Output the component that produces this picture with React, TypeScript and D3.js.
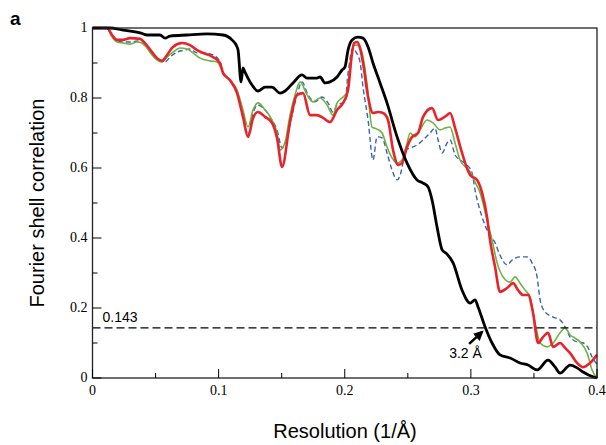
import React from 'react';
import * as d3 from 'd3';

// [resolution (1/Å), FSC]
const blackCurve: [number, number][] = [
  [0, 1.0], [0.0139, 1.0], [0.0242, 0.994], [0.0377, 0.986], [0.0432, 0.98], [0.0535, 0.98],
  [0.0575, 0.971], [0.0615, 0.977], [0.0749, 0.98], [0.0908, 0.983], [0.1035, 0.98],
  [0.1106, 0.966], [0.1146, 0.946], [0.1154, 0.937], [0.1178, 0.846], [0.1193, 0.886],
  [0.1209, 0.874], [0.1265, 0.837], [0.1312, 0.82], [0.1368, 0.831], [0.1423, 0.831],
  [0.1487, 0.814], [0.1527, 0.82], [0.159, 0.843], [0.1661, 0.866], [0.1701, 0.857],
  [0.178, 0.857], [0.1804, 0.86], [0.1844, 0.843], [0.1883, 0.846], [0.1939, 0.86],
  [0.1979, 0.88], [0.2002, 0.889], [0.2026, 0.937], [0.2058, 0.966], [0.2105, 0.974],
  [0.2145, 0.971], [0.2185, 0.946], [0.2224, 0.9], [0.228, 0.843], [0.2335, 0.786],
  [0.2415, 0.689], [0.2494, 0.614], [0.2573, 0.566], [0.2621, 0.557], [0.2661, 0.546],
  [0.2692, 0.509], [0.2732, 0.431], [0.2772, 0.366], [0.2811, 0.354], [0.2859, 0.329],
  [0.293, 0.251], [0.2994, 0.214], [0.3033, 0.223], [0.3057, 0.203], [0.3113, 0.146],
  [0.3168, 0.1], [0.3231, 0.066], [0.3311, 0.057], [0.339, 0.043], [0.3454, 0.037],
  [0.3525, 0.023], [0.3612, 0.051], [0.3668, 0.031], [0.3707, 0.014], [0.3787, 0.037],
  [0.3842, 0.029], [0.389, 0.017], [0.3969, 0.003], [0.4, 0],
];

const redCurve: [number, number][] = [
  [0, 1.0], [0.0115, 1.0], [0.0155, 0.98], [0.0194, 0.966], [0.0242, 0.966], [0.0297, 0.971],
  [0.0377, 0.969], [0.0416, 0.957], [0.0472, 0.931], [0.0511, 0.914], [0.0551, 0.906],
  [0.0591, 0.923], [0.0638, 0.946], [0.071, 0.957], [0.0773, 0.951], [0.0829, 0.937],
  [0.0876, 0.929], [0.0956, 0.917], [0.1011, 0.9], [0.1035, 0.871], [0.109, 0.851],
  [0.1146, 0.814], [0.1193, 0.746], [0.1233, 0.689], [0.1273, 0.743], [0.1312, 0.76],
  [0.1368, 0.746], [0.1423, 0.729], [0.1463, 0.686], [0.1503, 0.603], [0.1566, 0.731],
  [0.1622, 0.809], [0.1669, 0.814], [0.1725, 0.751], [0.178, 0.751], [0.1828, 0.743],
  [0.1883, 0.731], [0.1939, 0.766], [0.1987, 0.786], [0.2026, 0.823], [0.2058, 0.929],
  [0.2074, 0.957], [0.2098, 0.96], [0.2121, 0.943], [0.2145, 0.9], [0.2185, 0.803],
  [0.2224, 0.757], [0.2264, 0.76], [0.2304, 0.757], [0.2343, 0.737], [0.2383, 0.651],
  [0.2423, 0.609], [0.2454, 0.614], [0.2494, 0.66], [0.2534, 0.689], [0.2581, 0.7],
  [0.2621, 0.746], [0.2692, 0.771], [0.274, 0.737], [0.2811, 0.751], [0.2835, 0.757],
  [0.2875, 0.714], [0.293, 0.643], [0.2994, 0.58], [0.3049, 0.566], [0.3089, 0.529],
  [0.3128, 0.46], [0.3152, 0.394], [0.3192, 0.317], [0.3231, 0.246], [0.3287, 0.257],
  [0.3335, 0.271], [0.3374, 0.251], [0.3414, 0.237], [0.3454, 0.237], [0.3493, 0.186],
  [0.3533, 0.1], [0.3572, 0.117], [0.3612, 0.129], [0.3652, 0.089], [0.3707, 0.1],
  [0.3747, 0.086], [0.3787, 0.071], [0.3842, 0.043], [0.389, 0.031], [0.3945, 0.043],
  [0.4, 0.066],
];

const greenCurve: [number, number][] = [
  [0, 1.0], [0.0115, 1.0], [0.0155, 0.974], [0.0194, 0.96], [0.0242, 0.957], [0.0297, 0.954],
  [0.0353, 0.96], [0.0393, 0.957], [0.0432, 0.943], [0.0472, 0.923], [0.0511, 0.909],
  [0.0551, 0.903], [0.0591, 0.917], [0.0638, 0.931], [0.0694, 0.943], [0.0749, 0.94],
  [0.0797, 0.929], [0.0852, 0.914], [0.0932, 0.906], [0.0987, 0.903], [0.1035, 0.874],
  [0.109, 0.851], [0.1146, 0.823], [0.1193, 0.766], [0.1233, 0.717], [0.1273, 0.766],
  [0.1312, 0.786], [0.1368, 0.766], [0.1423, 0.737], [0.1463, 0.7], [0.1487, 0.651],
  [0.1527, 0.674], [0.1566, 0.751], [0.1606, 0.809], [0.1646, 0.846], [0.1701, 0.809],
  [0.1749, 0.789], [0.1804, 0.8], [0.186, 0.78], [0.1907, 0.751], [0.1939, 0.786],
  [0.1987, 0.803], [0.2018, 0.817], [0.205, 0.917], [0.2074, 0.951], [0.2098, 0.951],
  [0.2137, 0.929], [0.2177, 0.84], [0.2216, 0.717], [0.2256, 0.711], [0.2296, 0.7],
  [0.2335, 0.66], [0.2375, 0.629], [0.2415, 0.614], [0.2454, 0.623], [0.2494, 0.671],
  [0.2518, 0.7], [0.2557, 0.689], [0.2597, 0.709], [0.2653, 0.737], [0.27, 0.729],
  [0.2756, 0.709], [0.2795, 0.714], [0.2835, 0.717], [0.2875, 0.671], [0.2914, 0.623],
  [0.2994, 0.589], [0.3033, 0.56], [0.3073, 0.529], [0.3128, 0.451], [0.3168, 0.394],
  [0.3208, 0.329], [0.3255, 0.289], [0.3311, 0.274], [0.335, 0.289], [0.339, 0.271],
  [0.343, 0.251], [0.3469, 0.231], [0.3509, 0.157], [0.3549, 0.1], [0.3604, 0.089],
  [0.3652, 0.1], [0.3707, 0.129], [0.3747, 0.143], [0.3787, 0.123], [0.3826, 0.114],
  [0.3866, 0.103], [0.3922, 0.071], [0.3961, 0.023], [0.4, 0.0],
];

const blueCurve: [number, number][] = [
  [0, 1.0], [0.0115, 1.0], [0.0155, 0.977], [0.0194, 0.963], [0.0242, 0.96], [0.0313, 0.96],
  [0.0353, 0.963], [0.0393, 0.957], [0.0432, 0.943], [0.048, 0.923], [0.0535, 0.906],
  [0.0575, 0.903], [0.0615, 0.917], [0.067, 0.931], [0.0734, 0.937], [0.0773, 0.94],
  [0.0829, 0.929], [0.0876, 0.929], [0.0956, 0.923], [0.1011, 0.903], [0.1035, 0.871],
  [0.109, 0.851], [0.1146, 0.817], [0.1193, 0.757], [0.1233, 0.694], [0.1273, 0.757],
  [0.1312, 0.78], [0.1368, 0.766], [0.1423, 0.737], [0.1463, 0.709], [0.1503, 0.657],
  [0.1542, 0.686], [0.1582, 0.751], [0.1622, 0.809], [0.1661, 0.846], [0.1709, 0.809],
  [0.1764, 0.789], [0.182, 0.803], [0.1867, 0.786], [0.1907, 0.76], [0.1939, 0.78],
  [0.2002, 0.789], [0.2026, 0.871], [0.2066, 0.943], [0.209, 0.931], [0.2121, 0.903],
  [0.2145, 0.831], [0.2185, 0.737], [0.2224, 0.623], [0.2256, 0.689], [0.2296, 0.686],
  [0.2335, 0.643], [0.2375, 0.594], [0.2415, 0.566], [0.2454, 0.6], [0.2478, 0.651],
  [0.2518, 0.657], [0.2573, 0.666], [0.2621, 0.68], [0.2676, 0.7], [0.2716, 0.714],
  [0.274, 0.68], [0.2772, 0.643], [0.2811, 0.671], [0.2835, 0.68], [0.2875, 0.637],
  [0.2914, 0.623], [0.297, 0.609], [0.3009, 0.586], [0.3033, 0.537], [0.3089, 0.46],
  [0.3136, 0.417], [0.3192, 0.386], [0.3231, 0.351], [0.3287, 0.323], [0.3327, 0.337],
  [0.339, 0.346], [0.3446, 0.346], [0.3485, 0.329], [0.3525, 0.289], [0.3549, 0.223],
  [0.3588, 0.189], [0.3652, 0.174], [0.3707, 0.166], [0.3747, 0.146], [0.3787, 0.117],
  [0.3842, 0.103], [0.389, 0.1], [0.393, 0.086], [0.3961, 0.06], [0.4, 0.04],
];

const threshold = 0.143;
const resolutionLabel = '3.2 Å';
const xMajorTicks = [0, 0.1, 0.2, 0.3, 0.4];
const xMinorTicks = [0.05, 0.15, 0.25, 0.35];
const yMajorTicks = [0, 0.2, 0.4, 0.6, 0.8, 1];
const yMinorTicks = [0.1, 0.3, 0.5, 0.7, 0.9];

const width = 606;
const height = 445;
const margin = { top: 28, right: 9, bottom: 67, left: 92.5 };

const serif = { fontFamily: "'Liberation Serif', 'DejaVu Serif', serif" };
const sans = { fontFamily: "'Liberation Sans', Arial, sans-serif" };

export default function App() {
  const x = d3.scaleLinear().domain([0, 0.4]).range([margin.left, width - margin.right]);
  const y = d3.scaleLinear().domain([0, 1]).range([height - margin.bottom, margin.top]);

  const line = d3.line<[number, number]>()
    .x(d => x(d[0]))
    .y(d => y(d[1]))
    .curve(d3.curveMonotoneX);

  const x0 = x(0), x1 = x(0.4), y0 = y(0), y1 = y(1);
  const crossX = x(0.3113);
  const crossY = y(threshold);

  return (
    <svg width={width} height={height} style={{ position: 'absolute', left: 0, top: 0 }}>
      <defs>
        <clipPath id="cut">
          <rect x={0} y={14} width={40} height={30} />
        </clipPath>
        <marker id="head" viewBox="0 0 10 10" refX="8" refY="5" markerWidth="4" markerHeight="4" orient="auto">
          <path d="M0,0 L10,5 L0,10 z" fill="#000" />
        </marker>
      </defs>
      <rect width={width} height={height} fill="#fff" />

      {/* cropped panel letter */}
      <text x={10} y={25} style={sans} fontWeight="bold" fontSize={19} clipPath="url(#cut)">a</text>

      {/* curves */}
      <path d={line(blueCurve) || ''} fill="none" stroke="#3a62b5" strokeWidth={1.4} strokeDasharray="5,3" />
      <path d={line(greenCurve) || ''} fill="none" stroke="#6cb43f" strokeWidth={1.6} />
      <path d={line(redCurve) || ''} fill="none" stroke="#e8232b" strokeWidth={2.6} />
      <path d={line(blackCurve) || ''} fill="none" stroke="#000" strokeWidth={2.8} />

      {/* threshold */}
      <line x1={x0} x2={x1} y1={crossY} y2={crossY} stroke="#000" strokeWidth={1.3} strokeDasharray="8,4" />
      <text x={x0 + 10} y={crossY - 6} style={sans} fontSize={14}>{threshold}</text>

      {/* resolution arrow */}
      <line x1={crossX - 16} y1={crossY + 16} x2={crossX - 3} y2={crossY + 4}
        stroke="#000" strokeWidth={2.5} markerEnd="url(#head)" />
      <text x={crossX - 36} y={crossY + 30} style={sans} fontSize={14}>{resolutionLabel}</text>

      {/* frame */}
      <rect x={x0} y={y1} width={x1 - x0} height={y0 - y1} fill="none" stroke="#222" strokeWidth={1.3} />

      {/* x ticks */}
      {xMajorTicks.map(t => (
        <g key={'xM' + t}>
          <line x1={x(t)} x2={x(t)} y1={y0} y2={y0 - 9} stroke="#000" strokeWidth={1} />
          <text x={x(t)} y={y0 + 17} textAnchor="middle" style={serif} fontSize={14}>{t}</text>
        </g>
      ))}
      {xMinorTicks.map(t => (
        <line key={'xm' + t} x1={x(t)} x2={x(t)} y1={y0} y2={y0 - 5} stroke="#000" strokeWidth={1} />
      ))}

      {/* y ticks */}
      {yMajorTicks.map(t => (
        <g key={'yM' + t}>
          <line x1={x0} x2={x0 + 9} y1={y(t)} y2={y(t)} stroke="#000" strokeWidth={1} />
          <text x={x0 - 5} y={y(t) + 4} textAnchor="end" style={serif} fontSize={14}>{t}</text>
        </g>
      ))}
      {yMinorTicks.map(t => (
        <line key={'ym' + t} x1={x0} x2={x0 + 5} y1={y(t)} y2={y(t)} stroke="#000" strokeWidth={1} />
      ))}

      {/* axis titles */}
      <text x={345} y={438} textAnchor="middle" style={sans} fontSize={20}>Resolution (1/Å)</text>
      <text transform={`translate(44, ${(y0 + y1) / 2}) rotate(-90)`} textAnchor="middle"
        style={sans} fontSize={20}>Fourier shell correlation</text>
    </svg>
  );
}
